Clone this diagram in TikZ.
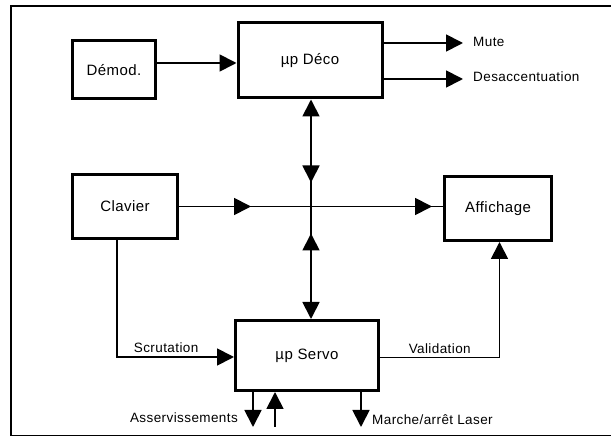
\documentclass[tikz,border=0pt]{standalone}
\usepackage{fontspec}
\setmainfont{Liberation Sans}
\newfontfamily\blkfont{Liberation Sans}[LetterSpace=3.0]
\usetikzlibrary{arrows.meta,decorations.markings}

\begin{document}
\begin{tikzpicture}[x=1pt,y=-1pt]
      \tikzset{block/.style={draw, line width=3pt, inner sep=0pt,
          font=\blkfont\fontsize{15}{18}\selectfont},
        sig/.style={line width=1.8pt},
        lbl/.style={inner sep=3pt, font=\blkfont\fontsize{13.5}{16}\selectfont},
        tri/.tip={Triangle[length=17pt,width=17pt]}
      }
      \useasboundingbox (0,0) rectangle (611,438);
      \draw [line width=1.6pt] (611,6)--(11,6)--(11,435.5)--(611,435.5);
      % blocks
      \node [block, minimum width=83pt, minimum height=58pt] (demod) at (114,70) {Démod.};
      \node [block, minimum width=144pt, minimum height=75pt] (deco) at (310,60.5) {µp Déco};
      \node [block, minimum width=105pt, minimum height=64pt] (clavier) at (125,206.5) {Clavier};
      \node [block, minimum width=107pt, minimum height=64pt] (affichage) at (498,208.5) {Affichage};
      \node [block, minimum width=143pt, minimum height=70pt] (servo) at (307,355.5) {µp Servo};
      % free ends
      \coordinate (decoin) at ([yshift=-2.5pt]deco.west);
      \coordinate (muteend) at (463,43);
      \coordinate (desend) at (463,79);
      \coordinate (cross) at (311,206.5);
      \coordinate (asvout) at (253,427);
      \coordinate (asvin) at (275,427);
      \coordinate (laser) at (361,427);
      % connectors
      \draw [sig,-tri] (demod.east |- decoin)--(decoin);
      \draw [sig,-tri] (deco.east |- muteend)--(muteend);
      \draw [sig,-tri] (deco.east |- desend)--(desend);
      \node [lbl, anchor=base west] (mute) at (470,47) {Mute};
      \node [lbl, anchor=base west] (desacc) at (470,82) {Desaccentuation};
      \draw [sig, postaction={decorate}, decoration={markings,
          mark=at position 72pt with {\arrow{tri}},
          mark=at position 253pt with {\arrow{tri}}}]
        (clavier.east)--(clavier.east -| affichage.west);
      \draw [sig, tri-, postaction={decorate}, decoration={markings,
          mark=at position 83pt with {\arrow{tri}}}]
        (cross |- deco.south)--(cross);
      \draw [sig,-tri, postaction={decorate}, decoration={markings,
          mark=at position 27pt with {\arrowreversed{tri}}}]
        (cross)--(cross |- servo.north);
      \draw [sig,-tri] ([xshift=-8pt]clavier.south) |- ([yshift=-1.5pt]servo.west)
        node [lbl, above, pos=0.71] (scrut) {Scrutation};
      \draw [sig,-tri] ([yshift=-2pt]servo.east) -| ([xshift=1.5pt]affichage.south)
        node [lbl, above, pos=0.25] (valid) {Validation};
      \draw [sig,-tri] (asvout |- servo.south)--(asvout);
      \draw [sig,-tri] (asvin)--(asvin |- servo.south);
      \draw [sig,-tri] (laser |- servo.south)--(laser);
      \node [lbl, anchor=east] (asserv) at (241,418) {Asservissements};
      \node [lbl, anchor=west] (marche) at (369,420) {Marche/arrêt Laser};
\end{tikzpicture}
\end{document}
